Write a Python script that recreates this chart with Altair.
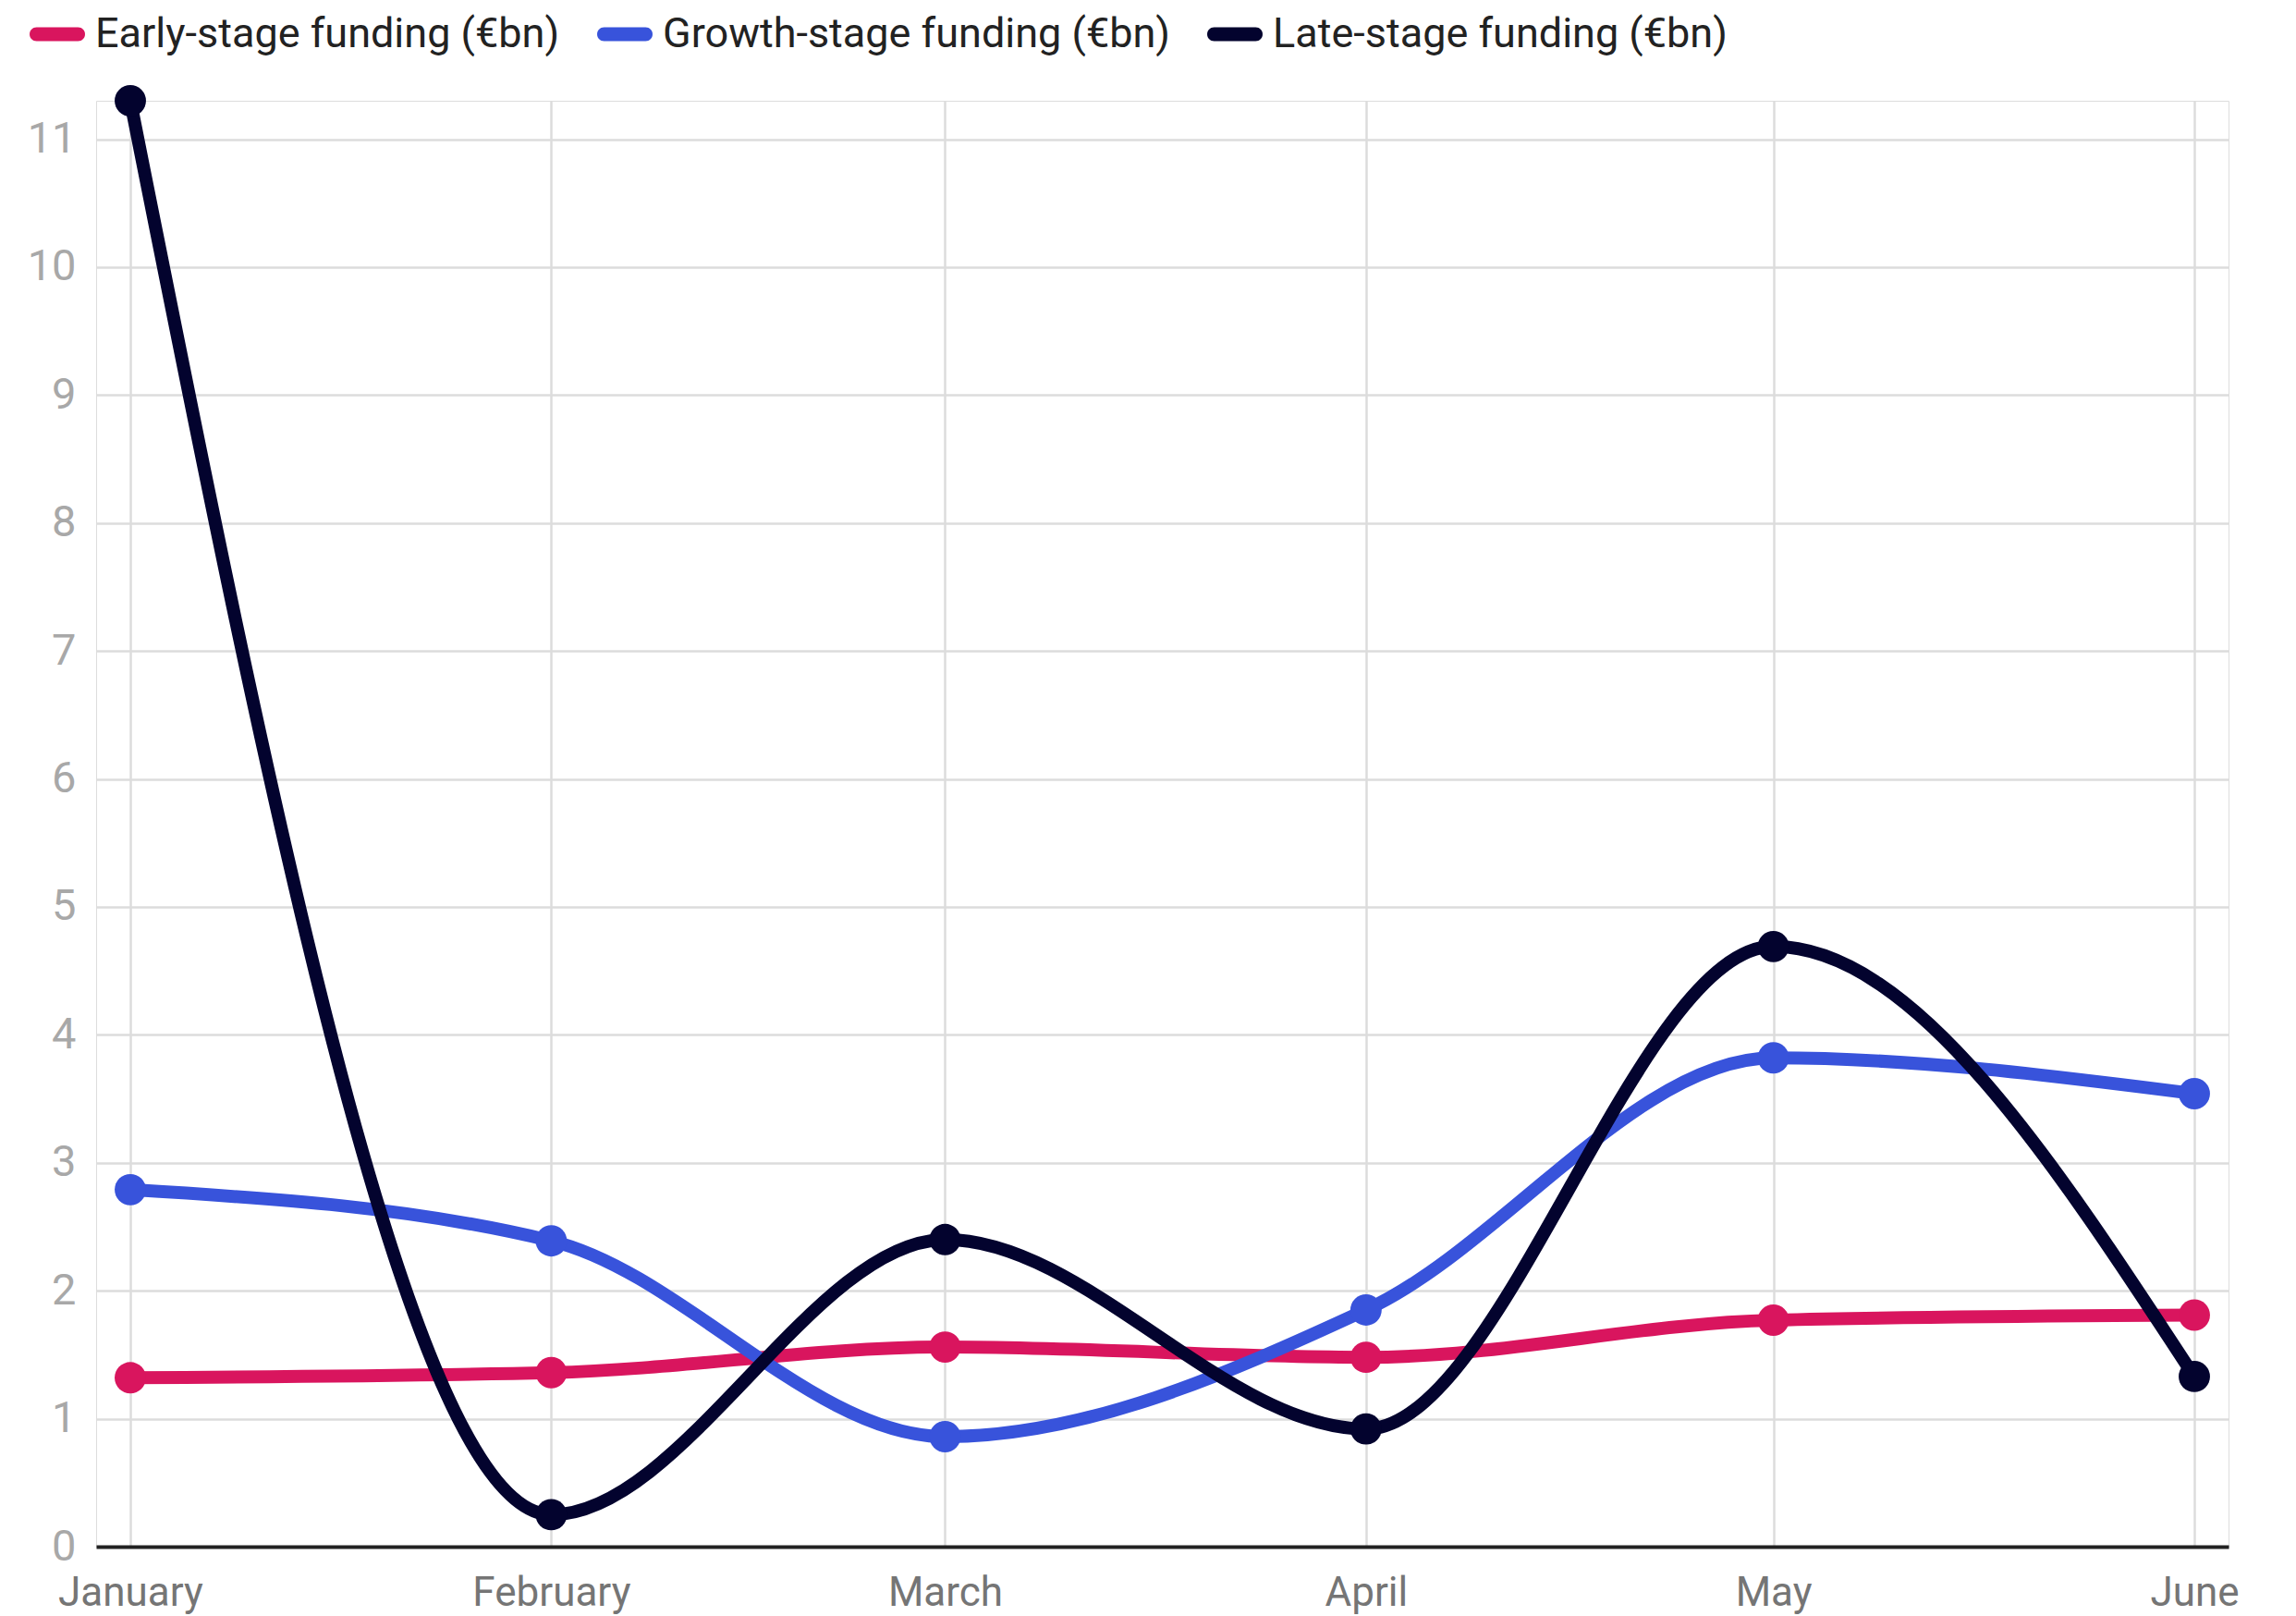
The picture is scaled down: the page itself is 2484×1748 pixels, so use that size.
import altair as alt
import pandas as pd

months = ["2024-01-01", "2024-02-01", "2024-03-01", "2024-04-01", "2024-05-01", "2024-06-01"]
series_names = ["Early-stage funding (€bn)", "Growth-stage funding (€bn)", "Late-stage funding (€bn)"]
early = [1.32, 1.36, 1.56, 1.48, 1.77, 1.81]
growth = [2.79, 2.39, 0.86, 1.85, 3.82, 3.54]
late = [11.30, 0.25, 2.40, 0.92, 4.69, 1.33]
colors = ["#d9155e", "#3853db", "#03032e"]
y_ticks = list(range(12))

rows = []
for name, vals in zip(series_names, [early, growth, late]):
    for m, v in zip(months, vals):
        rows.append({"month": m, "series": name, "value": v})
df = pd.DataFrame(rows)

month_values = [alt.DateTime(year=2024, month=i, date=1, utc=True) for i in range(1, 7)]

x_enc = alt.X(
    "month:T",
    title=None,
    scale=alt.Scale(type="utc", padding=37, nice=False),
    axis=alt.Axis(
        values=month_values,
        labelExpr="utcFormat(datum.value, '%B')",
        labelFont="Roboto",
        labelFontSize=44,
        labelColor="#757575",
        labelPadding=28,
        ticks=False,
        domain=True,
        domainColor="#222222",
        domainWidth=4,
        grid=True,
        gridColor="#dcdcdc",
        gridWidth=2.5,
        labelOverlap=False,
    ),
)
y_enc = alt.Y(
    "value:Q",
    title=None,
    scale=alt.Scale(domain=[0, 11.3], nice=False, zero=True),
    axis=alt.Axis(
        values=y_ticks,
        labelFont="Roboto",
        labelFontSize=47,
        labelColor="#a8a8a8",
        labelPadding=22,
        ticks=False,
        domain=False,
        grid=True,
        gridColor="#dcdcdc",
        gridWidth=2.5,
    ),
)

scale = alt.Scale(domain=series_names, range=colors)

legend_path = "M-0.75,-0.25 H0.75 A0.25,0.25 0 0 1 0.75,0.25 H-0.75 A0.25,0.25 0 0 1 -0.75,-0.25 Z"
legend = alt.Legend(
    title=None,
    orient="none",
    legendX=-72,
    legendY=-102,
    direction="horizontal",
    symbolType=legend_path,
    symbolSize=3600,
    symbolStrokeWidth=0,
    labelFont="Roboto",
    labelFontSize=45,
    labelColor="#222222",
    labelOffset=11,
    columnPadding=40,
    labelLimit=1000,
)

lines = alt.Chart(df).mark_line(
    interpolate="monotone", strokeWidth=14, strokeCap="round", strokeJoin="round"
).encode(
    x=x_enc,
    y=y_enc,
    stroke=alt.Stroke("series:N", scale=scale, legend=legend),
)

points = alt.Chart(df).mark_point(filled=True, size=1150, opacity=1).encode(
    x=x_enc,
    y=y_enc,
    fill=alt.Fill("series:N", scale=scale, legend=legend),
)

chart = alt.layer(lines, points).properties(
    width=2307,
    height=1564,
    autosize=alt.AutoSizeParams(type="none"),
    padding={"left": 96, "top": 101, "right": 25, "bottom": 75},
).configure_view(stroke=None).configure(background="white")

chart.save("out.html", embed_options={"renderer": "svg", "actions": False})
